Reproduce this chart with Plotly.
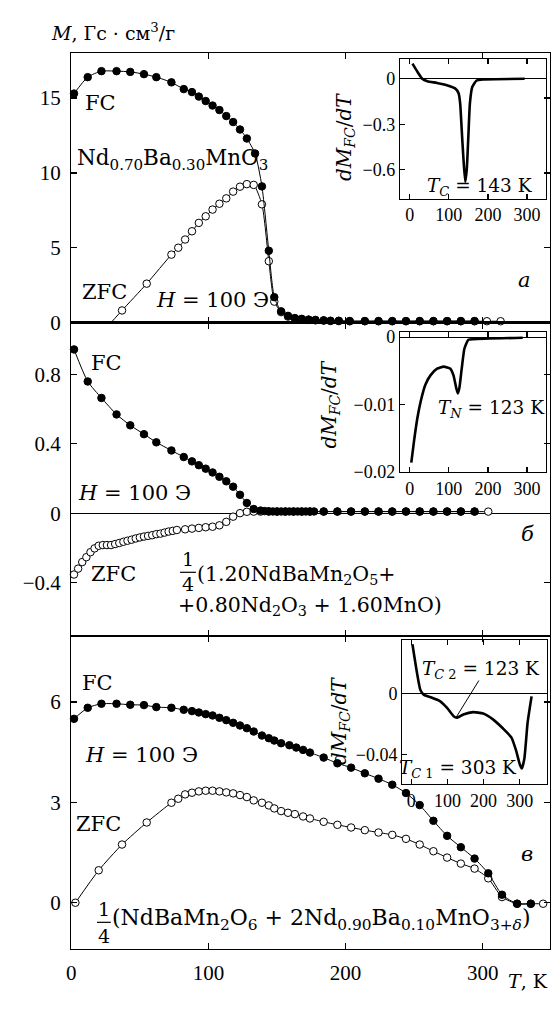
import plotly.graph_objects as go

# ---------------- data ----------------
# Panel a: Nd0.70Ba0.30MnO3
fc_a_T = [2, 12, 22, 33, 43, 53, 62, 73, 82, 88, 93, 98, 103, 108, 113, 118, 123, 128, 134, 139,
          144, 148, 153, 158, 163, 168, 173, 178, 184, 189, 195, 203, 214, 224, 234, 244, 254, 264,
          274, 284, 294]
fc_a_M = [15.3, 16.4, 16.8, 16.8, 16.75, 16.6, 16.4, 16.05, 15.6, 15.4, 15.1, 14.8, 14.5, 14.2, 13.8,
          13.4, 12.9, 12.3, 11.3, 9.1, 4.8, 1.7, 0.75, 0.45, 0.3, 0.25, 0.2, 0.18, 0.15, 0.12, 0.12,
          0.1, 0.1, 0.1, 0.1, 0.1, 0.1, 0.1, 0.1, 0.1, 0.1]
zfc_a_T = [37, 55, 73, 78, 83, 88, 93, 98, 103, 108, 113, 118, 123, 128, 133, 139, 144, 148, 153,
           158, 163, 168, 173, 178, 184, 189, 195, 203, 214, 224, 234, 244, 254, 264, 274, 284, 294,
           303, 313]
zfc_a_M = [0.81, 2.6, 4.54, 5.0, 5.55, 6.1, 6.66, 7.1, 7.55, 7.94, 8.3, 8.75, 9.08, 9.25, 9.2, 7.9,
           4.1, 1.4, 0.7, 0.4, 0.28, 0.22, 0.18, 0.15, 0.13, 0.11, 0.1, 0.09, 0.09, 0.09, 0.09, 0.09,
           0.09, 0.09, 0.09, 0.09, 0.09, 0.09, 0.09]
zfc_a_onset = (29, 0.0)  # where the ZFC curve leaves the axis

# Panel б: 1/4(1.20NdBaMn2O5 + 0.80Nd2O3 + 1.60MnO)
fc_b_T = [2, 12, 22, 33, 43, 53, 62, 73, 82, 88, 93, 98, 103, 108, 113, 118, 123, 128, 133, 138,
          141, 144, 147, 150, 153, 156, 159, 162, 165, 168, 171, 174, 177, 184, 194, 204, 214, 224,
          234, 244, 254, 264, 274, 284, 294]
fc_b_M = [0.945, 0.76, 0.665, 0.57, 0.507, 0.456, 0.409, 0.362, 0.324, 0.299, 0.277, 0.257, 0.235,
          0.21, 0.184, 0.153, 0.106, 0.059, 0.024, 0.015, 0.012, 0.011, 0.01, 0.01, 0.01, 0.01, 0.01,
          0.01, 0.01, 0.01, 0.01, 0.01, 0.01, 0.01, 0.01, 0.01, 0.01, 0.01, 0.01, 0.01, 0.01, 0.01,
          0.01, 0.01, 0.01]
zfc_b_T = [2, 5, 8, 11, 14, 17, 20, 23, 26, 29, 32, 35, 38, 41, 44, 47, 50, 53, 56, 59, 62, 65, 68,
           71, 74, 77, 83, 88, 93, 98, 103, 108, 113, 118, 123, 128, 133, 138, 144, 150, 156, 162,
           168, 174, 184, 194, 204, 214, 224, 234, 244, 254, 264, 274, 284, 294, 304]
zfc_b_M = [-0.354, -0.32, -0.282, -0.254, -0.225, -0.203, -0.188, -0.184, -0.184, -0.184, -0.178,
           -0.172, -0.165, -0.159, -0.153, -0.146, -0.14, -0.135, -0.131, -0.127, -0.121, -0.118,
           -0.112, -0.106, -0.102, -0.097, -0.093, -0.089, -0.085, -0.081, -0.078, -0.07, -0.05,
           -0.02, 0.0, 0.008, 0.009, 0.009, 0.009, 0.009, 0.009, 0.009, 0.009, 0.009, 0.009, 0.009,
           0.009, 0.009, 0.009, 0.009, 0.009, 0.009, 0.009, 0.009, 0.009, 0.009, 0.009]

# Panel в: 1/4(NdBaMn2O6 + 2Nd0.90Ba0.10MnO3+δ)
fc_c_T = [2, 12, 22, 33, 43, 53, 62, 73, 82, 88, 93, 98, 103, 108, 113, 118, 123, 128, 133, 139,
          144, 148, 153, 159, 164, 169, 174, 184, 194, 204, 214, 224, 234, 244, 254, 264, 274, 284,
          294, 304, 314, 325, 335]
fc_c_M = [5.50, 5.83, 5.95, 5.95, 5.92, 5.91, 5.85, 5.83, 5.77, 5.73, 5.69, 5.64, 5.60, 5.53, 5.46,
          5.38, 5.30, 5.22, 5.12, 5.00, 4.92, 4.85, 4.77, 4.71, 4.64, 4.57, 4.49, 4.34, 4.17, 4.04,
          3.87, 3.71, 3.53, 3.28, 2.92, 2.45, 2.00, 1.66, 1.32, 0.88, 0.24, -0.03, -0.03]
zfc_c_T = [3, 20, 37, 55, 73, 78, 83, 88, 93, 98, 103, 108, 113, 118, 123, 128, 133, 139, 144, 148,
           153, 158, 163, 169, 174, 184, 194, 204, 214, 224, 234, 244, 254, 264, 274, 284, 294, 304,
           314, 325, 335, 344]
zfc_c_M = [0.0, 0.97, 1.74, 2.40, 2.99, 3.11, 3.24, 3.29, 3.33, 3.35, 3.35, 3.33, 3.30, 3.27, 3.22,
           3.16, 3.06, 2.99, 2.91, 2.82, 2.74, 2.69, 2.65, 2.58, 2.52, 2.42, 2.33, 2.25, 2.17, 2.10,
           2.03, 1.91, 1.74, 1.54, 1.35, 1.17, 1.02, 0.73, 0.17, -0.03, -0.03, -0.03]

# Insets: dM_FC/dT
ins_a_T = [7, 20, 32, 45, 70, 95, 116, 125, 129, 133, 137, 142, 146, 150, 154, 160, 171, 188, 294]
ins_a_D = [0.10, 0.045, 0.0, -0.016, -0.027, -0.042, -0.063, -0.095, -0.16, -0.335, -0.51, -0.68,
           -0.595, -0.38, -0.16, -0.054, -0.011, -0.004, 0.0]
ins_b_T = [4, 11, 19.5, 28, 40, 53, 70, 87, 104, 112, 119, 123, 127, 133, 140, 150, 163, 289]
ins_b_D = [-0.0187, -0.0155, -0.0121, -0.0096, -0.0071, -0.0057, -0.0047, -0.0044, -0.0047, -0.0057,
           -0.0076, -0.0084, -0.0076, -0.0047, -0.0017, -0.0004, -0.0003, -0.0001]
ins_c_T = [3, 16, 25, 35, 53, 80, 99, 117, 126, 144, 171, 199, 226, 254, 277, 290, 301, 306, 313,
           322, 333]
ins_c_D = [0.032, 0.0128, 0.0021, -0.0011, -0.0026, -0.0053, -0.0096, -0.015, -0.016, -0.0139,
           -0.0124, -0.0133, -0.0171, -0.0231, -0.0289, -0.0374, -0.047, -0.0492, -0.0428, -0.0193,
           -0.0021]

main_xticks = [0, 100, 200, 300]
ins_xticks = [0, 100, 200, 300]

# ---------------- figure ----------------
W, H = 551, 1012
TICKFONT = "Liberation Serif, Times New Roman, serif"
TEXTFONT = "DejaVu Serif, Liberation Serif, serif"


def px(x):
    return x / W


def py(y):
    return 1 - y / H


fig = go.Figure()


def add_panel(xa, ya, fcT, fcM, zT, zM, zline_T=None, zline_M=None):
    lx = zT if zline_T is None else zline_T
    ly = zM if zline_M is None else zline_M
    fig.add_trace(go.Scatter(x=lx, y=ly, mode="lines", xaxis=xa, yaxis=ya,
                             line=dict(color="black", width=1, shape="spline", smoothing=0.6),
                             hoverinfo="skip", cliponaxis=False))
    fig.add_trace(go.Scatter(x=zT, y=zM, mode="markers", xaxis=xa, yaxis=ya, cliponaxis=False,
                             marker=dict(symbol="circle", size=7.5, color="white",
                                         line=dict(color="black", width=1))))
    fig.add_trace(go.Scatter(x=fcT, y=fcM, mode="lines+markers", xaxis=xa, yaxis=ya,
                             cliponaxis=False,
                             line=dict(color="black", width=1, shape="spline", smoothing=0.6),
                             marker=dict(symbol="circle", size=7.5, color="black",
                                         line=dict(color="black", width=1))))


add_panel("x", "y", fc_a_T, fc_a_M, zfc_a_T, zfc_a_M,
          [zfc_a_onset[0]] + zfc_a_T, [zfc_a_onset[1]] + zfc_a_M)
add_panel("x2", "y2", fc_b_T, fc_b_M, zfc_b_T, zfc_b_M)
add_panel("x3", "y3", fc_c_T, fc_c_M, zfc_c_T, zfc_c_M)

for xa, ya, T, D in [("x4", "y4", ins_a_T, ins_a_D), ("x5", "y5", ins_b_T, ins_b_D),
                     ("x6", "y6", ins_c_T, ins_c_D)]:
    fig.add_trace(go.Scatter(x=T, y=D, mode="lines", xaxis=xa, yaxis=ya,
                             line=dict(color="black", width=2.6, shape="spline", smoothing=0.5)))

main_ax = dict(showline=True, linecolor="black", linewidth=1.2, mirror="ticks", ticks="inside",
               ticklen=6, tickwidth=1.2, tickcolor="black", showgrid=False, zeroline=False,
               tickfont=dict(size=21, family=TICKFONT, color="black"))
ins_ax = dict(showline=True, linecolor="black", linewidth=1.2, ticks="inside", ticklen=5,
              tickwidth=1.2, tickcolor="black", showgrid=False,
              tickfont=dict(size=18, family=TICKFONT, color="black"))

xdom = [px(67), px(551)]
ydom_a = [py(323), py(49)]
ydom_b = [py(642), py(323)]
ydom_c = [py(960), py(642)]

layout = dict(
    width=W, height=H, margin=dict(l=0, r=0, t=0, b=0),
    paper_bgcolor="white", plot_bgcolor="rgba(0,0,0,0)", showlegend=False,
    font=dict(family=TEXTFONT, size=21, color="black"),
    xaxis=dict(main_ax, domain=xdom, range=[0, 349], tickvals=main_xticks, showticklabels=False,
               anchor="y"),
    yaxis=dict(main_ax, domain=ydom_a, range=[0, 18], tickvals=[0, 5, 10, 15], anchor="x",
               ticklabelstandoff=5),
    xaxis2=dict(main_ax, domain=xdom, range=[0, 349], tickvals=main_xticks, showticklabels=False,
                anchor="y2"),
    yaxis2=dict(main_ax, domain=ydom_b, range=[-0.71, 1.10], tickvals=[-0.4, 0, 0.4, 0.8],
                ticktext=["−0.4", "0", "0.4", "0.8"], anchor="x2", zeroline=True,
                zerolinecolor="black", zerolinewidth=1.2, ticklabelstandoff=5),
    xaxis3=dict(main_ax, domain=xdom, range=[0, 349], tickvals=main_xticks, anchor="y3",
                ticklabelstandoff=5),
    yaxis3=dict(main_ax, domain=ydom_c, range=[-1.38, 7.97], tickvals=[0, 3, 6], anchor="x3",
                ticklabelstandoff=5),
    xaxis4=dict(ins_ax, domain=[px(399.3), px(546.7)], range=[-25, 348], tickvals=ins_xticks,
                mirror="ticks", zeroline=False, anchor="y4"),
    yaxis4=dict(ins_ax, domain=[py(197), py(55)], range=[-0.79, 0.13], tickvals=[0, -0.3, -0.6],
                ticktext=["0", "−0.3", "−0.6"], mirror=True, zeroline=True,
                zerolinecolor="black", zerolinewidth=1.2, anchor="x4"),
    xaxis5=dict(ins_ax, domain=[px(399.3), px(546.7)], range=[-25, 348], tickvals=ins_xticks,
                mirror="ticks", zeroline=False, anchor="y5"),
    yaxis5=dict(ins_ax, domain=[py(475), py(333)], range=[-0.0201, 0.0007],
                tickvals=[0, -0.01, -0.02], ticktext=["0", "−0.01", "−0.02"], mirror=True,
                zeroline=True, zerolinecolor="black", zerolinewidth=1.2, anchor="x5"),
    xaxis6=dict(ins_ax, domain=[px(401.7), px(547.7)], range=[-25, 375], tickvals=ins_xticks,
                mirror="ticks", zeroline=False, anchor="y6"),
    yaxis6=dict(ins_ax, domain=[py(792.5), py(646)], range=[-0.0595, 0.0347],
                tickvals=[0, -0.04], ticktext=["0", "−0.04"], mirror=True, zeroline=True,
                zerolinecolor="black", zerolinewidth=1.2, anchor="x6"),
)
fig.update_layout(**layout)

anns = []


def ann(x, y, text, size=21, xanchor="center", angle=0, family=TEXTFONT):
    anns.append(dict(x=px(x), y=py(y), xref="paper", yref="paper", text=text, showarrow=False,
                     xanchor=xanchor, yanchor="middle", textangle=angle, borderpad=0,
                     font=dict(size=size, family=family, color="black")))


# axis titles
ann(45, 27, "<i>M</i>, Гс · см<sup>3</sup>/г", 19, "left")
ann(550, 993, "<i>T</i>, K", 19, "right")

# panel a
ann(97, 100, "FC")
ann(72, 157, "Nd<sub>0.70</sub>Ba<sub>0.30</sub>MnO<sub>3</sub>", 21.5, "left")
ann(101, 292, "ZFC")
ann(152, 300, "<i>H</i> = 100 Э", 21, "left")
ann(525, 280, "<i>a</i>", 21)

# panel б
ann(103, 364, "FC")
ann(73, 496, "<i>H</i> = 100 Э", 21, "left")
ann(110, 579, "ZFC")
ann(185, 563, "1", 19)
ann(185, 589, "4", 19)
ann(193, 580, "(1.20NdBaMn<sub>2</sub>O<sub>5</sub>+", 20.5, "left")
ann(174, 611, "+0.80Nd<sub>2</sub>O<sub>3</sub> + 1.60MnO)", 20.5, "left")
ann(528, 538, "<i>б</i>", 21)

# panel в
ann(94, 690, "FC")
ann(80, 763, "<i>H</i> = 100 Э", 21, "left")
ann(95, 833, "ZFC")
ann(100, 919, "1", 19)
ann(100, 947, "4", 19)
ann(107, 930, "(NdBaMn<sub>2</sub>O<sub>6</sub> + 2Nd<sub>0.90</sub>Ba<sub>0.10</sub>MnO<sub>3+<i>δ</i></sub>)",
    22, "left")
ann(528, 863, "<i>в</i>", 21)

# inset labels
dmdt = "<i>dM</i><sub><i>FC</i></sub>/<i>dT</i>"
ann(343, 134, dmdt, 20, angle=-90)
ann(329, 406, dmdt, 20, angle=-90)
ann(338, 728, dmdt, 20, angle=-90)
ann(480, 185, "<i>T</i><sub><i>C</i></sub> = 143 K", 18.5)
ann(492, 411, "<i>T</i><sub><i>N</i></sub> = 123 K", 18.5)
ann(481, 676, "<i>T</i><sub><i>C</i> 2</sub> = 123 K", 18.5)
ann(458, 777, "<i>T</i><sub><i>C</i> 1</sub> = 303 K", 18.5)

fig.update_layout(annotations=anns)

shapes = [
    dict(type="line", xref="paper", yref="paper", x0=px(177), x1=px(193), y0=py(577), y1=py(577),
         line=dict(color="black", width=1.2)),
    dict(type="line", xref="paper", yref="paper", x0=px(93), x1=px(107), y0=py(933), y1=py(933),
         line=dict(color="black", width=1.2)),
    # pointer from the T_C2 label to the curve
    dict(type="line", xref="x6", yref="y6", x0=187, y0=0.0083, x1=124, y1=-0.0158,
         line=dict(color="black", width=1)),
]
fig.update_layout(shapes=shapes)

# the figure fills the 551x1012 window exactly: drop the default page margin
fig.write_html("out.html",
               config={"displayModeBar": False, "staticPlot": True},
               post_script="document.body.style.margin='0';document.body.style.overflow='hidden';")
